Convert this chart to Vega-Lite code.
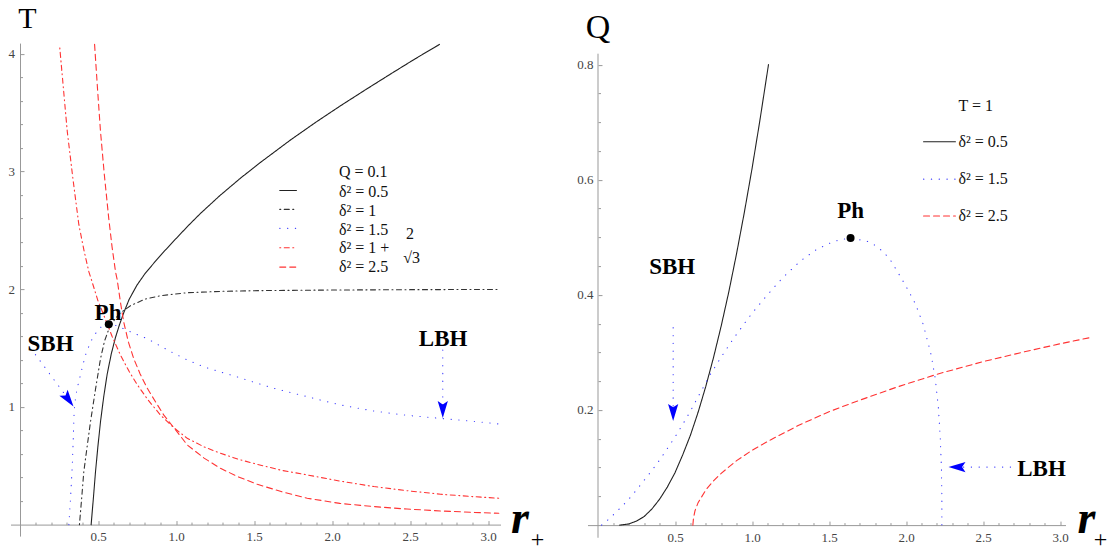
{
"$schema":"https://vega.github.io/schema/vega-lite/v6.json",
"autosize":{"type":"pad"},
"padding":{"left":7.5,"top":3.1,"right":10,"bottom":12},
"background":"white",
"bounds":"flush",
"spacing":87,
"config":{"view":{"stroke":null},"font":"Liberation Serif","axis":{"grid":false,"domainColor":"#999999","tickColor":"#999999","domainWidth":1,"tickWidth":1,"labelFont":"Liberation Serif","labelFontSize":13,"labelColor":"#444444","labelOverlap":false,"labelFlush":false,"labelBound":false}},
"datasets":{
"L":[
{"s":"d05","g":"c05","r":0.456,"v":0},{"s":"d05","g":"c05","r":0.470,"v":0.22},{"s":"d05","g":"c05","r":0.484,"v":0.45},{"s":"d05","g":"c05","r":0.499,"v":0.66},{"s":"d05","g":"c05","r":0.516,"v":0.875},{"s":"d05","g":"c05","r":0.537,"v":1.09},{"s":"d05","g":"c05","r":0.559,"v":1.28},{"s":"d05","g":"c05","r":0.585,"v":1.45},{"s":"d05","g":"c05","r":0.612,"v":1.59},{"s":"d05","g":"c05","r":0.638,"v":1.70},{"s":"d05","g":"c05","r":0.665,"v":1.80},{"s":"d05","g":"c05","r":0.70,"v":1.915},{"s":"d05","g":"c05","r":0.75,"v":2.035},{"s":"d05","g":"c05","r":0.80,"v":2.13},{"s":"d05","g":"c05","r":0.86,"v":2.225},{"s":"d05","g":"c05","r":0.93,"v":2.33},{"s":"d05","g":"c05","r":1.0,"v":2.43},{"s":"d05","g":"c05","r":1.08,"v":2.542},{"s":"d05","g":"c05","r":1.157,"v":2.644},{"s":"d05","g":"c05","r":1.28,"v":2.794},{"s":"d05","g":"c05","r":1.413,"v":2.943},{"s":"d05","g":"c05","r":1.542,"v":3.078},{"s":"d05","g":"c05","r":1.734,"v":3.268},{"s":"d05","g":"c05","r":1.9,"v":3.422},{"s":"d05","g":"c05","r":2.054,"v":3.558},{"s":"d05","g":"c05","r":2.22,"v":3.699},{"s":"d05","g":"c05","r":2.375,"v":3.828},{"s":"d05","g":"c05","r":2.53,"v":3.955},{"s":"d05","g":"c05","r":2.689,"v":4.08},
{"s":"d1","g":"c1","r":0.381,"v":0},{"s":"d1","g":"c1","r":0.395,"v":0.22},{"s":"d1","g":"c1","r":0.409,"v":0.45},{"s":"d1","g":"c1","r":0.43,"v":0.66},{"s":"d1","g":"c1","r":0.452,"v":0.875},{"s":"d1","g":"c1","r":0.484,"v":1.15},{"s":"d1","g":"c1","r":0.516,"v":1.41},{"s":"d1","g":"c1","r":0.542,"v":1.56},{"s":"d1","g":"c1","r":0.569,"v":1.66},{"s":"d1","g":"c1","r":0.61,"v":1.75},{"s":"d1","g":"c1","r":0.645,"v":1.80},{"s":"d1","g":"c1","r":0.708,"v":1.86},{"s":"d1","g":"c1","r":0.80,"v":1.915},{"s":"d1","g":"c1","r":0.9,"v":1.945},{"s":"d1","g":"c1","r":1.07,"v":1.97},{"s":"d1","g":"c1","r":1.3,"v":1.982},{"s":"d1","g":"c1","r":1.54,"v":1.988},{"s":"d1","g":"c1","r":2.0,"v":1.993},{"s":"d1","g":"c1","r":2.5,"v":1.996},{"s":"d1","g":"c1","r":3.067,"v":1.998},
{"s":"d15","g":"c15","r":0.313,"v":0},{"s":"d15","g":"c15","r":0.325,"v":0.25},{"s":"d15","g":"c15","r":0.335,"v":0.5},{"s":"d15","g":"c15","r":0.342,"v":0.75},{"s":"d15","g":"c15","r":0.347,"v":0.96},{"s":"d15","g":"c15","r":0.355,"v":1.07},{"s":"d15","g":"c15","r":0.365,"v":1.15},{"s":"d15","g":"c15","r":0.377,"v":1.215},{"s":"d15","g":"c15","r":0.40,"v":1.34},{"s":"d15","g":"c15","r":0.42,"v":1.44},{"s":"d15","g":"c15","r":0.44,"v":1.51},{"s":"d15","g":"c15","r":0.463,"v":1.58},{"s":"d15","g":"c15","r":0.49,"v":1.635},{"s":"d15","g":"c15","r":0.516,"v":1.675},{"s":"d15","g":"c15","r":0.545,"v":1.695},{"s":"d15","g":"c15","r":0.569,"v":1.70},{"s":"d15","g":"c15","r":0.62,"v":1.69},{"s":"d15","g":"c15","r":0.687,"v":1.65},{"s":"d15","g":"c15","r":0.75,"v":1.615},{"s":"d15","g":"c15","r":0.815,"v":1.58},{"s":"d15","g":"c15","r":0.89,"v":1.525},{"s":"d15","g":"c15","r":0.965,"v":1.47},{"s":"d15","g":"c15","r":1.07,"v":1.40},{"s":"d15","g":"c15","r":1.178,"v":1.34},{"s":"d15","g":"c15","r":1.29,"v":1.295},{"s":"d15","g":"c15","r":1.392,"v":1.255},{"s":"d15","g":"c15","r":1.51,"v":1.205},{"s":"d15","g":"c15","r":1.627,"v":1.158},{"s":"d15","g":"c15","r":1.74,"v":1.12},{"s":"d15","g":"c15","r":1.841,"v":1.087},{"s":"d15","g":"c15","r":1.95,"v":1.05},{"s":"d15","g":"c15","r":2.054,"v":1.017},{"s":"d15","g":"c15","r":2.16,"v":0.99},{"s":"d15","g":"c15","r":2.268,"v":0.965},{"s":"d15","g":"c15","r":2.38,"v":0.945},{"s":"d15","g":"c15","r":2.482,"v":0.928},{"s":"d15","g":"c15","r":2.6,"v":0.914},{"s":"d15","g":"c15","r":2.717,"v":0.9},{"s":"d15","g":"c15","r":2.9,"v":0.878},{"s":"d15","g":"c15","r":3.069,"v":0.855},
{"s":"dc","g":"cc","r":0.255,"v":4.05},{"s":"dc","g":"cc","r":0.28,"v":3.68},{"s":"dc","g":"cc","r":0.303,"v":3.34},{"s":"dc","g":"cc","r":0.34,"v":2.93},{"s":"dc","g":"cc","r":0.377,"v":2.55},{"s":"dc","g":"cc","r":0.41,"v":2.33},{"s":"dc","g":"cc","r":0.441,"v":2.15},{"s":"dc","g":"cc","r":0.458,"v":2.08},{"s":"dc","g":"cc","r":0.50,"v":1.90},{"s":"dc","g":"cc","r":0.537,"v":1.78},{"s":"dc","g":"cc","r":0.59,"v":1.60},{"s":"dc","g":"cc","r":0.644,"v":1.44},{"s":"dc","g":"cc","r":0.70,"v":1.30},{"s":"dc","g":"cc","r":0.751,"v":1.19},{"s":"dc","g":"cc","r":0.82,"v":1.06},{"s":"dc","g":"cc","r":0.901,"v":0.93},{"s":"dc","g":"cc","r":0.98,"v":0.83},{"s":"dc","g":"cc","r":1.072,"v":0.733},{"s":"dc","g":"cc","r":1.18,"v":0.66},{"s":"dc","g":"cc","r":1.285,"v":0.606},{"s":"dc","g":"cc","r":1.40,"v":0.555},{"s":"dc","g":"cc","r":1.521,"v":0.512},{"s":"dc","g":"cc","r":1.68,"v":0.46},{"s":"dc","g":"cc","r":1.841,"v":0.422},{"s":"dc","g":"cc","r":2.05,"v":0.37},{"s":"dc","g":"cc","r":2.268,"v":0.323},{"s":"dc","g":"cc","r":2.48,"v":0.288},{"s":"dc","g":"cc","r":2.696,"v":0.258},{"s":"dc","g":"cc","r":2.9,"v":0.238},{"s":"dc","g":"cc","r":3.069,"v":0.224},
{"s":"d25","g":"c25","r":0.478,"v":4.08},{"s":"d25","g":"c25","r":0.497,"v":3.70},{"s":"d25","g":"c25","r":0.516,"v":3.34},{"s":"d25","g":"c25","r":0.54,"v":2.98},{"s":"d25","g":"c25","r":0.569,"v":2.60},{"s":"d25","g":"c25","r":0.59,"v":2.36},{"s":"d25","g":"c25","r":0.612,"v":2.15},{"s":"d25","g":"c25","r":0.623,"v":2.08},{"s":"d25","g":"c25","r":0.645,"v":1.88},{"s":"d25","g":"c25","r":0.665,"v":1.72},{"s":"d25","g":"c25","r":0.695,"v":1.55},{"s":"d25","g":"c25","r":0.729,"v":1.41},{"s":"d25","g":"c25","r":0.77,"v":1.28},{"s":"d25","g":"c25","r":0.815,"v":1.16},{"s":"d25","g":"c25","r":0.87,"v":1.04},{"s":"d25","g":"c25","r":0.922,"v":0.93},{"s":"d25","g":"c25","r":1.0,"v":0.80},{"s":"d25","g":"c25","r":1.072,"v":0.677},{"s":"d25","g":"c25","r":1.18,"v":0.565},{"s":"d25","g":"c25","r":1.285,"v":0.478},{"s":"d25","g":"c25","r":1.40,"v":0.405},{"s":"d25","g":"c25","r":1.521,"v":0.343},{"s":"d25","g":"c25","r":1.68,"v":0.278},{"s":"d25","g":"c25","r":1.841,"v":0.224},{"s":"d25","g":"c25","r":2.05,"v":0.18},{"s":"d25","g":"c25","r":2.268,"v":0.153},{"s":"d25","g":"c25","r":2.48,"v":0.132},{"s":"d25","g":"c25","r":2.696,"v":0.116},{"s":"d25","g":"c25","r":2.9,"v":0.104},{"s":"d25","g":"c25","r":3.069,"v":0.096},
{"s":"d05","g":"l05","r":1.665,"v":2.839},{"s":"d05","g":"l05","r":1.772,"v":2.839},
{"s":"d1","g":"l1","r":1.665,"v":2.678},{"s":"d1","g":"l1","r":1.772,"v":2.678},
{"s":"d15","g":"l15","r":1.665,"v":2.517},{"s":"d15","g":"l15","r":1.772,"v":2.517},
{"s":"dc","g":"lc","r":1.665,"v":2.352},{"s":"dc","g":"lc","r":1.772,"v":2.352},
{"s":"d25","g":"l25","r":1.665,"v":2.188},{"s":"d25","g":"l25","r":1.772,"v":2.188},
{"s":"d15","g":"sbh","r":0.099,"v":1.444},{"s":"d15","g":"sbh","r":0.33,"v":1.03},
{"s":"d15","g":"lbh","r":2.71,"v":1.484},{"s":"d15","g":"lbh","r":2.71,"v":0.93}
],
"LT":[{"r":2.044,"v":2.997,"label":"Q = 0.1"},{"r":2.044,"v":2.825,"label":"δ² = 0.5"},{"r":2.044,"v":2.664,"label":"δ² = 1"},{"r":2.044,"v":2.502,"label":"δ² = 1.5"},{"r":2.044,"v":2.349,"label":"δ² = 1 +"},{"r":2.044,"v":2.188,"label":"δ² = 2.5"}],
"LF":[{"r":2.5,"v":2.466,"label":"2"},{"r":2.51,"v":2.262,"label":"√3"}],
"LB":[{"r":0.196,"v":1.474,"label":"SBH"},{"r":0.564,"v":1.737,"label":"Ph"},{"r":2.712,"v":1.517,"label":"LBH"}],
"LD":[{"r":0.569,"v":1.702}],
"LA":[{"r":0.343,"v":1.003,"k":"sbh"},{"r":2.71,"v":0.905,"k":"lbh"}],
"LTT":[{"r":0.048,"v":4.22,"label":"T"}],
"LRR":[{"r":3.205,"v":-0.072,"label":"r"}],
"LPP":[{"r":3.317,"v":-0.1274,"label":"+"}],
"R":[
{"s":"d05","g":"c05","r":0.141,"v":0},{"s":"d05","g":"c05","r":0.2,"v":0.002},{"s":"d05","g":"c05","r":0.25,"v":0.007},{"s":"d05","g":"c05","r":0.3,"v":0.015},{"s":"d05","g":"c05","r":0.35,"v":0.028},{"s":"d05","g":"c05","r":0.4,"v":0.045},{"s":"d05","g":"c05","r":0.45,"v":0.066},{"s":"d05","g":"c05","r":0.5,"v":0.091},{"s":"d05","g":"c05","r":0.55,"v":0.122},{"s":"d05","g":"c05","r":0.6,"v":0.156},{"s":"d05","g":"c05","r":0.65,"v":0.196},{"s":"d05","g":"c05","r":0.7,"v":0.241},{"s":"d05","g":"c05","r":0.75,"v":0.291},{"s":"d05","g":"c05","r":0.8,"v":0.346},{"s":"d05","g":"c05","r":0.85,"v":0.406},{"s":"d05","g":"c05","r":0.9,"v":0.472},{"s":"d05","g":"c05","r":0.95,"v":0.543},{"s":"d05","g":"c05","r":1.0,"v":0.619},{"s":"d05","g":"c05","r":1.05,"v":0.701},{"s":"d05","g":"c05","r":1.107,"v":0.80},
{"s":"d15","g":"c15","r":0.023,"v":0},{"s":"d15","g":"c15","r":0.06,"v":0.008},{"s":"d15","g":"c15","r":0.1,"v":0.018},{"s":"d15","g":"c15","r":0.15,"v":0.031},{"s":"d15","g":"c15","r":0.2,"v":0.045},{"s":"d15","g":"c15","r":0.25,"v":0.061},{"s":"d15","g":"c15","r":0.3,"v":0.078},{"s":"d15","g":"c15","r":0.35,"v":0.095},{"s":"d15","g":"c15","r":0.4,"v":0.113},{"s":"d15","g":"c15","r":0.45,"v":0.133},{"s":"d15","g":"c15","r":0.5,"v":0.153},{"s":"d15","g":"c15","r":0.55,"v":0.175},{"s":"d15","g":"c15","r":0.6,"v":0.198},{"s":"d15","g":"c15","r":0.66,"v":0.228},{"s":"d15","g":"c15","r":0.73,"v":0.262},{"s":"d15","g":"c15","r":0.8,"v":0.292},{"s":"d15","g":"c15","r":0.882,"v":0.325},{"s":"d15","g":"c15","r":0.95,"v":0.35},{"s":"d15","g":"c15","r":1.0,"v":0.368},{"s":"d15","g":"c15","r":1.1,"v":0.40},{"s":"d15","g":"c15","r":1.2,"v":0.43},{"s":"d15","g":"c15","r":1.315,"v":0.459},{"s":"d15","g":"c15","r":1.42,"v":0.479},{"s":"d15","g":"c15","r":1.531,"v":0.493},{"s":"d15","g":"c15","r":1.636,"v":0.499},{"s":"d15","g":"c15","r":1.748,"v":0.493},{"s":"d15","g":"c15","r":1.80,"v":0.486},{"s":"d15","g":"c15","r":1.856,"v":0.474},{"s":"d15","g":"c15","r":1.90,"v":0.46},{"s":"d15","g":"c15","r":1.943,"v":0.441},{"s":"d15","g":"c15","r":2.0,"v":0.415},{"s":"d15","g":"c15","r":2.06,"v":0.385},{"s":"d15","g":"c15","r":2.11,"v":0.35},{"s":"d15","g":"c15","r":2.16,"v":0.30},{"s":"d15","g":"c15","r":2.19,"v":0.255},{"s":"d15","g":"c15","r":2.21,"v":0.205},{"s":"d15","g":"c15","r":2.222,"v":0.155},{"s":"d15","g":"c15","r":2.23,"v":0.1},{"s":"d15","g":"c15","r":2.233,"v":0.05},{"s":"d15","g":"c15","r":2.233,"v":0},
{"s":"d25","g":"c25","r":0.616,"v":0},{"s":"d25","g":"c25","r":0.62,"v":0.012},{"s":"d25","g":"c25","r":0.63,"v":0.025},{"s":"d25","g":"c25","r":0.65,"v":0.039},{"s":"d25","g":"c25","r":0.7,"v":0.061},{"s":"d25","g":"c25","r":0.75,"v":0.077},{"s":"d25","g":"c25","r":0.8,"v":0.09},{"s":"d25","g":"c25","r":0.9,"v":0.112},{"s":"d25","g":"c25","r":1.0,"v":0.13},{"s":"d25","g":"c25","r":1.12,"v":0.148},{"s":"d25","g":"c25","r":1.3,"v":0.173},{"s":"d25","g":"c25","r":1.5,"v":0.197},{"s":"d25","g":"c25","r":1.7,"v":0.217},{"s":"d25","g":"c25","r":1.932,"v":0.239},{"s":"d25","g":"c25","r":2.2,"v":0.262},{"s":"d25","g":"c25","r":2.5,"v":0.284},{"s":"d25","g":"c25","r":2.8,"v":0.303},{"s":"d25","g":"c25","r":3.0,"v":0.315},{"s":"d25","g":"c25","r":3.2,"v":0.326},
{"s":"d05","g":"l05","r":2.114,"v":0.666},{"s":"d05","g":"l05","r":2.321,"v":0.666},
{"s":"d15","g":"l15","r":2.114,"v":0.601},{"s":"d15","g":"l15","r":2.321,"v":0.601},
{"s":"d25","g":"l25","r":2.114,"v":0.537},{"s":"d25","g":"l25","r":2.321,"v":0.537},
{"s":"d15","g":"sbh","r":0.488,"v":0.343},{"s":"d15","g":"sbh","r":0.488,"v":0.195},
{"s":"d15","g":"lbh","r":2.679,"v":0.1008},{"s":"d15","g":"lbh","r":2.29,"v":0.1008}
],
"RT":[{"r":2.341,"v":0.728,"label":"T = 1"},{"r":2.341,"v":0.665,"label":"δ² = 0.5"},{"r":2.341,"v":0.601,"label":"δ² = 1.5"},{"r":2.341,"v":0.537,"label":"δ² = 2.5"}],
"RB":[{"r":0.482,"v":0.436,"label":"SBH"},{"r":1.64,"v":0.533,"label":"Ph"},{"r":2.88,"v":0.085,"label":"LBH"}],
"RD":[{"r":1.64,"v":0.499}],
"RA":[{"r":0.488,"v":0.181,"k":"sbh"},{"r":2.276,"v":0.1008,"k":"lbh"}],
"RTT":[{"r":0,"v":0.846,"label":"Q"}],
"RRR":[{"r":3.172,"v":-0.0139,"label":"r"}],
"RPP":[{"r":3.263,"v":-0.0252,"label":"+"}],
"RAX":[{"r":0,"v":-0.022,"v2":0.819}]
},
"hconcat":[
{
"width":490,"height":493,
"encoding":{
"x":{"field":"r","type":"quantitative","scale":{"domain":[-0.0609,3.08],"nice":false,"zero":false},"axis":{"title":null,"orient":"bottom","offset":-11.5,"values":[0.1,0.2,0.3,0.4,0.5,0.6,0.7,0.8,0.9,1,1.1,1.2,1.3,1.4,1.5,1.6,1.7,1.8,1.9,2,2.1,2.2,2.3,2.4,2.5,2.6,2.7,2.8,2.9,3],"labelExpr":"abs(datum.value*2-round(datum.value*2))<0.001 ? format(datum.value,'.1f') : ''","tickSize":{"condition":{"test":"abs(datum.value*2-round(datum.value*2))<0.001","value":-4},"value":-2.5},"labelPadding":10}},
"y":{"field":"v","type":"quantitative","scale":{"domain":[-0.0977,4.091],"nice":false,"zero":false},"axis":{"title":null,"orient":"left","offset":-9.5,"values":[0.2,0.4,0.6,0.8,1,1.2,1.4,1.6,1.8,2,2.2,2.4,2.6,2.8,3,3.2,3.4,3.6,3.8,4],"labelExpr":"abs(datum.value-round(datum.value))<0.001 ? format(datum.value,'.0f') : ''","tickSize":{"condition":{"test":"abs(datum.value-round(datum.value))<0.001","value":-4},"value":-2.5},"labelPadding":9.5}}
},
"layer":[
{"data":{"name":"L"},"mark":{"type":"line","strokeWidth":1.1,"strokeCap":"round"},"encoding":{"detail":{"field":"g"},"order":{"value":null},"color":{"field":"s","type":"nominal","scale":{"domain":["d05","d1","d15","dc","d25"],"range":["#222222","#333333","#3b3bff","#ff3333","#ff3333"]},"legend":null},"strokeDash":{"field":"s","type":"nominal","scale":{"domain":["d05","d1","d15","dc","d25"],"range":[[1,0],[1,3.5,5,3.5],[0.3,7.5],[1,3.5,5,3.5],[6,4]]},"legend":null}}},
{"data":{"name":"LA"},"transform":[{"filter":"datum.k=='sbh'"}],"mark":{"type":"point","shape":"M0,0L-0.3,-1L0,-0.8L0.3,-1Z","filled":true,"color":"#0000ff","opacity":1,"size":1156,"angle":-36.2}},
{"data":{"name":"LA"},"transform":[{"filter":"datum.k=='lbh'"}],"mark":{"type":"point","shape":"M0,0L-0.3,-1L0,-0.8L0.3,-1Z","filled":true,"color":"#0000ff","opacity":1,"size":1156,"angle":0}},
{"data":{"name":"LD"},"mark":{"type":"point","shape":"circle","filled":true,"color":"#000000","opacity":1,"size":64}},
{"data":{"name":"LT"},"mark":{"type":"text","align":"left","baseline":"middle","font":"Liberation Serif","fontSize":16,"color":"#111111"},"encoding":{"text":{"field":"label"}}},
{"data":{"name":"LF"},"mark":{"type":"text","align":"center","baseline":"middle","font":"Liberation Serif","fontSize":16,"color":"#111111"},"encoding":{"text":{"field":"label"}}},
{"data":{"name":"LB"},"mark":{"type":"text","align":"center","baseline":"alphabetic","font":"Liberation Serif","fontSize":23,"fontWeight":"bold","color":"#000000"},"encoding":{"text":{"field":"label"}}},
{"data":{"name":"LTT"},"mark":{"type":"text","align":"center","baseline":"alphabetic","font":"Liberation Serif","fontSize":30,"color":"#000000"},"encoding":{"text":{"field":"label"}}},
{"data":{"name":"LRR"},"mark":{"type":"text","align":"center","baseline":"alphabetic","font":"Liberation Serif","fontSize":46,"fontWeight":"bold","fontStyle":"italic","color":"#000000"},"encoding":{"text":{"field":"label"}}},
{"data":{"name":"LPP"},"mark":{"type":"text","align":"center","baseline":"middle","font":"Liberation Serif","fontSize":24,"color":"#000000"},"encoding":{"text":{"field":"label"}}}
]
},
{
"width":478,"height":493,
"encoding":{
"x":{"field":"r","type":"quantitative","scale":{"domain":[-0.0682,3.0357],"nice":false,"zero":false},"axis":{"title":null,"orient":"bottom","offset":-11,"values":[0.1,0.2,0.3,0.4,0.5,0.6,0.7,0.8,0.9,1,1.1,1.2,1.3,1.4,1.5,1.6,1.7,1.8,1.9,2,2.1,2.2,2.3,2.4,2.5,2.6,2.7,2.8,2.9,3],"labelExpr":"abs(datum.value*2-round(datum.value*2))<0.001 ? format(datum.value,'.1f') : ''","tickSize":{"condition":{"test":"abs(datum.value*2-round(datum.value*2))<0.001","value":-4},"value":-2.5},"labelPadding":10}},
"y":{"field":"v","type":"quantitative","scale":{"domain":[-0.0191,0.8374],"nice":false,"zero":false},"axis":{"title":null,"orient":"left","offset":-10.5,"domain":false,"values":[0.05,0.1,0.15,0.2,0.25,0.3,0.35,0.4,0.45,0.5,0.55,0.6,0.65,0.7,0.75,0.8],"labelExpr":"abs(datum.value*5-round(datum.value*5))<0.001 ? format(datum.value,'.1f') : ''","tickSize":{"condition":{"test":"abs(datum.value*5-round(datum.value*5))<0.001","value":-4},"value":-2.5},"labelPadding":9}}
},
"layer":[
{"data":{"name":"RAX"},"mark":{"type":"rule","color":"#999999","strokeWidth":1},"encoding":{"y2":{"field":"v2"}}},
{"data":{"name":"R"},"mark":{"type":"line","strokeWidth":1.1,"strokeCap":"round"},"encoding":{"detail":{"field":"g"},"order":{"value":null},"color":{"field":"s","type":"nominal","scale":{"domain":["d05","d1","d15","dc","d25"],"range":["#222222","#333333","#3b3bff","#ff3333","#ff3333"]},"legend":null},"strokeDash":{"field":"s","type":"nominal","scale":{"domain":["d05","d1","d15","dc","d25"],"range":[[1,0],[1,3.5,5,3.5],[0.3,7.5],[1,3.5,5,3.5],[6,4]]},"legend":null}}},
{"data":{"name":"RA"},"transform":[{"filter":"datum.k=='sbh'"}],"mark":{"type":"point","shape":"M0,0L-0.3,-1L0,-0.8L0.3,-1Z","filled":true,"color":"#0000ff","opacity":1,"size":1156,"angle":0}},
{"data":{"name":"RA"},"transform":[{"filter":"datum.k=='lbh'"}],"mark":{"type":"point","shape":"M0,0L-0.3,-1L0,-0.8L0.3,-1Z","filled":true,"color":"#0000ff","opacity":1,"size":1156,"angle":90}},
{"data":{"name":"RD"},"mark":{"type":"point","shape":"circle","filled":true,"color":"#000000","opacity":1,"size":64}},
{"data":{"name":"RT"},"mark":{"type":"text","align":"left","baseline":"middle","font":"Liberation Serif","fontSize":16,"color":"#111111"},"encoding":{"text":{"field":"label"}}},
{"data":{"name":"RB"},"mark":{"type":"text","align":"center","baseline":"alphabetic","font":"Liberation Serif","fontSize":23,"fontWeight":"bold","color":"#000000"},"encoding":{"text":{"field":"label"}}},
{"data":{"name":"RTT"},"mark":{"type":"text","align":"center","baseline":"alphabetic","font":"Liberation Serif","fontSize":34,"color":"#000000"},"encoding":{"text":{"field":"label"}}},
{"data":{"name":"RRR"},"mark":{"type":"text","align":"center","baseline":"alphabetic","font":"Liberation Serif","fontSize":46,"fontWeight":"bold","fontStyle":"italic","color":"#000000"},"encoding":{"text":{"field":"label"}}},
{"data":{"name":"RPP"},"mark":{"type":"text","align":"center","baseline":"middle","font":"Liberation Serif","fontSize":24,"color":"#000000"},"encoding":{"text":{"field":"label"}}}
]
}
]
}
